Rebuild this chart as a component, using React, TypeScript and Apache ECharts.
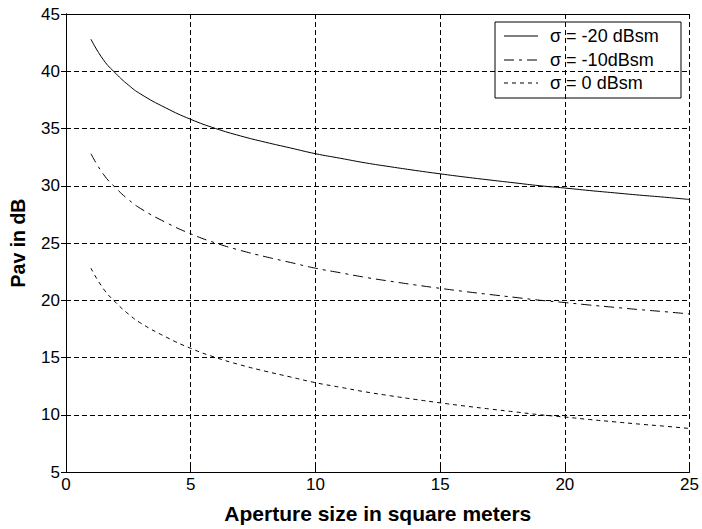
import React, { useEffect, useRef } from "react";
import * as echarts from "echarts";

// Aperture sizes (square meters)
const aperture = [1, 1.5, 2, 2.5, 3, 4, 5, 6, 7, 8, 9, 10, 11, 12, 13, 14, 15, 16, 17, 18, 19, 20, 21, 22, 23, 24, 25];

// Average power (dB) for each target RCS
const pavMinus20 = [42.8, 41.0, 39.8, 38.8, 38.0, 36.8, 35.8, 35.0, 34.35, 33.8, 33.3, 32.8, 32.4, 32.0, 31.66, 31.34, 31.04, 30.76, 30.5, 30.25, 30.0, 29.8, 29.58, 29.38, 29.18, 29.0, 28.8];
const pavMinus10 = [32.8, 31.0, 29.8, 28.8, 28.0, 26.8, 25.8, 25.0, 24.35, 23.8, 23.3, 22.8, 22.4, 22.0, 21.66, 21.34, 21.04, 20.76, 20.5, 20.25, 20.0, 19.8, 19.58, 19.38, 19.18, 19.0, 18.8];
const pavZero = [22.8, 21.0, 19.8, 18.8, 18.0, 16.8, 15.8, 15.0, 14.35, 13.8, 13.3, 12.8, 12.4, 12.0, 11.66, 11.34, 11.04, 10.76, 10.5, 10.25, 10.0, 9.8, 9.58, 9.38, 9.18, 9.0, 8.8];

const seriesNames = ["σ = -20 dBsm", "σ = -10dBsm", "σ = 0 dBsm"];

const FONT = "Liberation Sans, Arial, Helvetica, sans-serif";

// dash patterns shared by curves and legend samples
const DASHES: any[] = ["solid", [10, 5, 3, 5], [4, 4]];

export default function App() {
  const ref = useRef<HTMLDivElement>(null);

  useEffect(() => {
    if (!ref.current) return;
    const chart = echarts.init(ref.current, null, { renderer: "svg" });
    const pair = (ys: number[]) => aperture.map((x, i) => [x, ys[i]]);
    const gridLine = { show: true, lineStyle: { color: "#000", type: [5, 3] as any, width: 1 } };
    const tickStyle = { show: true, inside: true, length: 5, lineStyle: { color: "#000" } };
    const axisLineStyle = { show: true, lineStyle: { color: "#000", width: 1 } };

    // legend box drawn as a group: frame, line samples and labels
    const legendX = 495;
    const legendY = 22;
    const rowY = [14, 38, 61];
    const legendChildren: any[] = [
      {
        type: "rect",
        shape: { x: 0, y: 0, width: 186, height: 76 },
        style: { fill: "#fff", stroke: "#000", lineWidth: 1 },
      },
    ];
    seriesNames.forEach((name, i) => {
      legendChildren.push({
        type: "line",
        shape: { x1: 9, y1: rowY[i], x2: 43, y2: rowY[i] },
        style: { stroke: "#000", lineWidth: 1, lineDash: DASHES[i] === "solid" ? null : DASHES[i] },
      });
      legendChildren.push({
        type: "text",
        x: 55,
        y: rowY[i],
        style: {
          text: name,
          fill: "#000",
          font: `18px ${FONT}`,
          verticalAlign: "middle",
          align: "left",
        },
      });
    });

    chart.setOption({
      animation: false,
      backgroundColor: "#fff",
      grid: { left: 66, right: 12, top: 14, bottom: 53, containLabel: false },
      graphic: [{ type: "group", x: legendX, y: legendY, z: 100, children: legendChildren }],
      xAxis: [
        {
          type: "value",
          min: 0,
          max: 25,
          interval: 5,
          position: "bottom",
          name: "Aperture size in square meters",
          nameLocation: "middle",
          nameGap: 31,
          nameTextStyle: { fontFamily: FONT, fontSize: 21, fontWeight: "bold", color: "#000" },
          axisLine: axisLineStyle,
          axisTick: tickStyle,
          axisLabel: { fontFamily: FONT, fontSize: 17, color: "#000", margin: 4 },
          splitLine: gridLine,
        },
        {
          type: "value",
          min: 0,
          max: 25,
          interval: 5,
          position: "top",
          axisLine: axisLineStyle,
          axisTick: tickStyle,
          axisLabel: { show: false },
          splitLine: { show: false },
        },
      ],
      yAxis: [
        {
          type: "value",
          min: 5,
          max: 45,
          interval: 5,
          position: "left",
          name: "Pav in dB",
          nameLocation: "middle",
          nameGap: 38,
          nameTextStyle: { fontFamily: FONT, fontSize: 19.5, fontWeight: "bold", color: "#000" },
          axisLine: axisLineStyle,
          axisTick: tickStyle,
          axisLabel: { fontFamily: FONT, fontSize: 17, color: "#000", margin: 6 },
          splitLine: gridLine,
        },
        {
          type: "value",
          min: 5,
          max: 45,
          interval: 5,
          position: "right",
          axisLine: axisLineStyle,
          axisTick: tickStyle,
          axisLabel: { show: false },
          splitLine: { show: false },
        },
      ],
      series: [pavMinus20, pavMinus10, pavZero].map((ys, i) => ({
        name: seriesNames[i],
        type: "line",
        data: pair(ys),
        smooth: true,
        showSymbol: false,
        symbol: "none",
        color: "#000",
        lineStyle: { color: "#000", width: 1, type: DASHES[i] },
      })),
    });
    return () => chart.dispose();
  }, []);

  return (
    <div
      ref={ref}
      style={{ position: "fixed", left: 0, top: 0, width: 702, height: 529, background: "#fff" }}
    />
  );
}
